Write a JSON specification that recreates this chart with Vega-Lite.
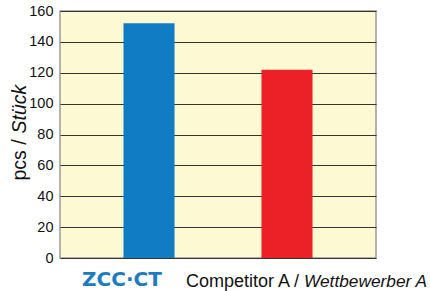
{
  "$schema": "https://vega.github.io/schema/vega-lite/v6.json",
  "autosize": "none",
  "width": 316,
  "height": 247,
  "padding": {"left": 60, "top": 11, "right": 54, "bottom": 33},
  "background": "#ffffff",
  "config": {
    "font": "Liberation Sans",
    "view": {"fill": "#fdf9d3", "stroke": "#9a9a9a", "strokeWidth": 1.5}
  },
  "data": {
    "values": [
      {"brand": "ZCC·CT", "value": 152, "name": "", "name_it": ""},
      {"brand": "Competitor A", "value": 122, "name": "Competitor A /", "name_it": "Wettbewerber A"}
    ]
  },
  "resolve": {"axis": {"y": "independent"}},
  "layer": [
    {
      "mark": {"type": "bar"},
      "encoding": {
        "x": {
          "field": "brand", "type": "nominal", "sort": null,
          "scale": {"paddingInner": 0.63, "paddingOuter": 0.46},
          "axis": null
        },
        "y": {
          "field": "value", "type": "quantitative",
          "scale": {"domain": [0, 160], "nice": false},
          "axis": {
            "values": [0, 20, 40, 60, 80, 100, 120, 140, 160],
            "orient": "left",
            "domain": false, "ticks": false,
            "labelFontSize": 14.5, "labelColor": "#111", "labelPadding": 7,
            "grid": true, "gridColor": "#333", "gridWidth": 1, "gridOpacity": 1,
            "title": "pcs /", "titleFontSize": 19.5, "titleFontWeight": "normal",
            "titleColor": "#111", "titleAngle": 270, "titleAlign": "left",
            "titleBaseline": "alphabetic", "titleX": -35, "titleY": 169
          }
        },
        "color": {
          "field": "brand", "type": "nominal", "legend": null,
          "scale": {"domain": ["ZCC·CT", "Competitor A"], "range": ["#0f7cc4", "#ec2027"]}
        }
      }
    },
    {
      "transform": [{"filter": "datum.brand == 'ZCC·CT'"}],
      "mark": {"type": "text", "baseline": "alphabetic", "align": "center", "dy": 28, "dx": -27,
               "font": "DejaVu Sans", "fontWeight": "bold", "fontSize": 20, "color": "#1b7cc2"},
      "encoding": {
        "x": {"field": "brand", "type": "nominal", "sort": null},
        "y": {"datum": 0, "type": "quantitative", "axis": null},
        "text": {"field": "brand"}
      }
    },
    {
      "transform": [{"filter": "datum.brand == 'Competitor A'"}],
      "mark": {"type": "text", "baseline": "alphabetic", "align": "right", "dy": 29, "dx": 12,
               "fontSize": 18, "color": "#111"},
      "encoding": {
        "x": {"field": "brand", "type": "nominal", "sort": null},
        "y": {"datum": 0, "type": "quantitative", "axis": null},
        "text": {"field": "name"}
      }
    },
    {
      "transform": [{"filter": "datum.brand == 'Competitor A'"}],
      "mark": {"type": "text", "baseline": "alphabetic", "align": "left", "dy": 29, "dx": 17,
               "fontSize": 17.3, "fontStyle": "italic", "color": "#111"},
      "encoding": {
        "x": {"field": "brand", "type": "nominal", "sort": null},
        "y": {
          "datum": 0, "type": "quantitative",
          "axis": {
            "orient": "left", "labels": false, "ticks": false, "domain": false, "grid": false,
            "title": "Stück", "titleFontSize": 19.5, "titleFontWeight": "normal", "titleFontStyle": "italic",
            "titleColor": "#111", "titleAngle": 270, "titleAlign": "left",
            "titleBaseline": "alphabetic", "titleX": -35, "titleY": 122
          }
        },
        "text": {"field": "name_it"}
      }
    }
  ]
}
